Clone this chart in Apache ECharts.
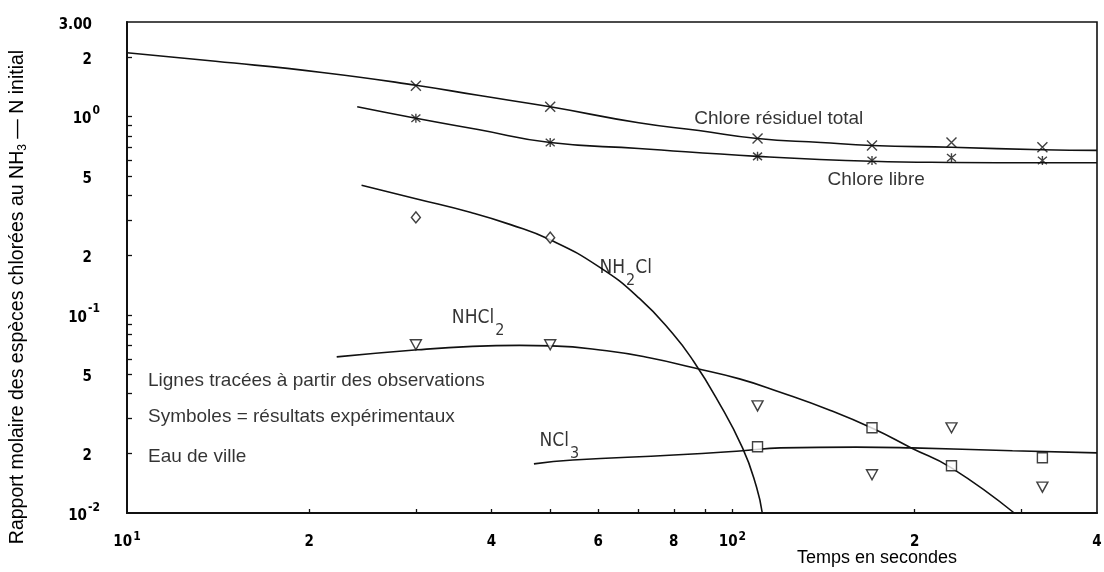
<!DOCTYPE html>
<html>
<head>
<meta charset="utf-8">
<script src="https://cdn.jsdelivr.net/npm/echarts@6/dist/echarts.min.js"></script>
<style>
html, body { margin: 0; padding: 0; background: #fff; }
#main { width: 1104px; height: 572px; }
</style>
</head>
<body>
<div id="main"></div>
<script>
// courbes tracées (temps en s, rapport molaire)
var totalCurve = [[10, 2.10], [14, 1.90], [21, 1.67], [30, 1.44], [38, 1.28], [50, 1.12], [70, 0.93], [88, 0.85], [110, 0.775], [140, 0.74], [170, 0.715], [230, 0.70], [325, 0.68], [400, 0.675]];
var freeCurve = [[24, 1.12], [30, 0.98], [38, 0.86], [50, 0.74], [70, 0.69], [110, 0.63], [170, 0.595], [230, 0.587], [325, 0.585], [400, 0.585]];
var nh2clCurve = [[24.4, 0.45], [30, 0.385], [37, 0.328], [43, 0.285], [50, 0.239], [60.3, 0.174], [70.2, 0.121], [79.6, 0.0807], [86.3, 0.0581], [94.1, 0.0379], [103.9, 0.0213], [109.6, 0.0135], [112, 0.01]];
var nhcl2Curve = [[22.2, 0.0613], [30.2, 0.0666], [37.2, 0.0693], [44.5, 0.0701], [50.3, 0.0697], [62, 0.0658], [72.9, 0.0607], [86.3, 0.054], [102.7, 0.0475], [119.6, 0.0408], [144.5, 0.0331], [171, 0.0266], [197.4, 0.0213], [230, 0.0169], [292, 0.01]];
var ncl3Curve = [[47, 0.0177], [54.5, 0.0185], [80, 0.0196], [104, 0.0206], [120, 0.0213], [160, 0.0215], [198, 0.0213], [290, 0.0206], [400, 0.0201]];

// points expérimentaux
var obsTimes = [30, 50, 110, 170, 230, 325];
var totalObs = [1.43, 1.12, 0.775, 0.715, 0.74, 0.70];
var freeObs = [0.98, 0.74, 0.63, 0.60, 0.62, 0.60];
var nh2clTimes = [30, 50];
var nh2clObs = [0.31, 0.245];
var nhcl2Obs = [0.0706, 0.0706, 0.0347, 0.0156, 0.0269, 0.0135];
var ncl3Times = [110, 170, 230, 325];
var ncl3Obs = [0.0216, 0.0269, 0.0173, 0.019];

// graduations
var xTicks = [20, 30, 40, 50, 60, 70, 80, 90, 100, 200, 300];
var xLabelVals = [10, 20, 40, 60, 80, 100, 200, 400];
var xLabelBase = ['10', '2', '4', '6', '8', '10', '2', '4'];
var xLabelSup = ['1', '', '', '', '', '2', '', ''];
var yTicks = [2, 1, 0.9, 0.8, 0.7, 0.6, 0.5, 0.4, 0.3, 0.2, 0.1, 0.09, 0.08, 0.07, 0.06, 0.05, 0.04, 0.03, 0.02];
var yLabelVals = [3, 2, 1, 0.5, 0.2, 0.1, 0.05, 0.02, 0.01];
var yLabelBase = ['3.00', '2', '10', '5', '2', '10', '5', '2', '10'];
var yLabelSup = ['', '', '0', '', '', '-1', '', '', '-2'];

// textes sur le graphique
var noteText = ['Chlore résiduel total', 'Chlore libre', 'Lignes tracées à partir des observations', 'Symboles = résultats expérimentaux', 'Eau de ville'];
var noteAt = [[86.5, 0.977], [143.6, 0.481], [10.83, 0.0464], [10.83, 0.0305], [10.83, 0.0192]];
var speciesName = [['NH', '2', 'Cl'], ['NHCl', '2', ''], ['NCl', '3', '']];
var speciesAt = [[60.3, 0.173], [34.4, 0.0966], [48, 0.0231]];

var ink = '#111';
var narrow = '"DejaVu Sans Condensed", "Liberation Sans Narrow", "DejaVu Sans", sans-serif';
var plain = '"Liberation Sans", Arial, sans-serif';

function pairs(ts, vs) {
    return ts.map(function (t, i) { return [t, vs[i]]; });
}

function labelFmt(vals, base, sup, padPlain) {
    return function (v) {
        for (var i = 0; i < vals.length; i++) {
            if (Math.abs(Math.log(v / vals[i])) < 1e-6) {
                var s = '{b|' + base[i] + '}';
                if (sup[i]) s += '{s|' + sup[i] + '}';
                else if (padPlain) s += '{e|}';
                return s;
            }
        }
        return '';
    };
}

function curve(data) {
    return {
        type: 'line', data: data, showSymbol: false, smooth: 0.5,
        lineStyle: { color: ink, width: 1.6 }, silent: true, z: 2
    };
}

function marks(data, symbol, size, rotate, fill) {
    return {
        type: 'scatter', data: data, symbol: symbol, symbolSize: size, symbolRotate: rotate || 0,
        itemStyle: { color: fill, borderColor: ink, borderWidth: 1.4 },
        silent: true, z: 3
    };
}

var noteSeries = {
    type: 'scatter', symbolSize: 0, silent: true, z: 4,
    data: noteText.map(function (t, i) {
        return { value: noteAt[i], label: { formatter: t } };
    }),
    label: {
        show: true, position: 'right', distance: 0,
        fontFamily: plain, fontSize: 19, color: '#000'
    }
};

var speciesSeries = {
    type: 'scatter', symbolSize: 0, silent: true, z: 4,
    data: speciesName.map(function (p, i) {
        return {
            value: speciesAt[i],
            label: { formatter: '{n|' + p[0] + '}{u|' + p[1] + '}' + (p[2] ? '{n|' + p[2] + '}' : '') }
        };
    }),
    label: {
        show: true, position: 'right', distance: 0,
        rich: {
            n: { fontFamily: narrow, fontSize: 19, lineHeight: 19, color: '#000' },
            u: { fontFamily: narrow, fontSize: 16, lineHeight: 16, padding: [26, 0, 0, 1], color: '#000' }
        }
    }
};

var tickStyle = { color: ink, width: 1.3 };

var option = {
    animation: false,
    backgroundColor: '#fff',
    grid: {
        left: 127, right: 7, top: 22, bottom: 59,
        show: true, borderColor: ink, borderWidth: 1.6,
        outerBoundsMode: 'none'
    },
    xAxis: {
        type: 'log', logBase: 10, min: 10, max: 400,
        axisLine: { lineStyle: { color: ink, width: 2 } },
        axisTick: { inside: true, length: 4, customValues: xTicks, lineStyle: tickStyle },
        axisLabel: {
            customValues: xLabelVals, margin: 18,
            formatter: labelFmt(xLabelVals, xLabelBase, xLabelSup, false),
            rich: {
                b: { fontFamily: narrow, fontWeight: 'bold', fontSize: 15, lineHeight: 23, color: '#000' },
                s: { fontFamily: narrow, fontWeight: 'bold', fontSize: 12, lineHeight: 12, padding: [0, 0, 11, 1], color: '#000' }
            }
        },
        splitLine: { show: false }
    },
    yAxis: {
        type: 'log', logBase: 10, min: 0.01, max: 3,
        axisLine: { lineStyle: { color: ink, width: 2 } },
        axisTick: { inside: true, length: 5, customValues: yTicks, lineStyle: tickStyle },
        axisLabel: {
            customValues: yLabelVals, margin: 27,
            formatter: labelFmt(yLabelVals, yLabelBase, yLabelSup, true),
            rich: {
                b: { fontFamily: narrow, fontWeight: 'bold', fontSize: 15, lineHeight: 23, padding: [6, 0, 0, 0], color: '#000' },
                s: { fontFamily: narrow, fontWeight: 'bold', fontSize: 12, lineHeight: 12, padding: [0, 0, 11, 1], color: '#000' },
                e: { width: 8 }
            }
        },
        splitLine: { show: false }
    },
    graphic: [
        {
            type: 'text', x: 18, y: 297, rotation: Math.PI / 2, silent: true,
            style: {
                text: '{a|Rapport molaire des espèces chlorées au NH}{s|3}{a| — N initial}',
                align: 'center', verticalAlign: 'middle',
                rich: {
                    a: { fontFamily: plain, fontSize: 19.5, lineHeight: 20, fill: '#000' },
                    s: { fontFamily: plain, fontSize: 12, lineHeight: 12, padding: [10, 0, 0, 0], fill: '#000' }
                }
            }
        },
        {
            type: 'text', x: 877, y: 558, silent: true,
            style: {
                text: 'Temps en secondes', align: 'center', verticalAlign: 'middle',
                fontFamily: plain, fontSize: 18, fill: '#000'
            }
        }
    ],
    series: [
        curve(totalCurve),
        curve(freeCurve),
        curve(nh2clCurve),
        curve(nhcl2Curve),
        curve(ncl3Curve),
        marks(pairs(obsTimes, totalObs), 'path://M0 0L10 10M10 0L0 10', 10, 0, 'transparent'),
        marks(pairs(obsTimes, freeObs), 'path://M0 0L10 10M10 0L0 10M5 -1L5 11', 9, 0, 'transparent'),
        marks(pairs(nh2clTimes, nh2clObs), 'diamond', [9, 11], 0, '#fff'),
        marks(pairs(obsTimes, nhcl2Obs), 'triangle', [11, 10], 180, '#fff'),
        marks(pairs(ncl3Times, ncl3Obs), 'rect', 10, 0, '#fff'),
        noteSeries,
        speciesSeries
    ]
};

var myChart = echarts.init(document.getElementById('main'));
myChart.setOption(option);
</script>
</body>
</html>
